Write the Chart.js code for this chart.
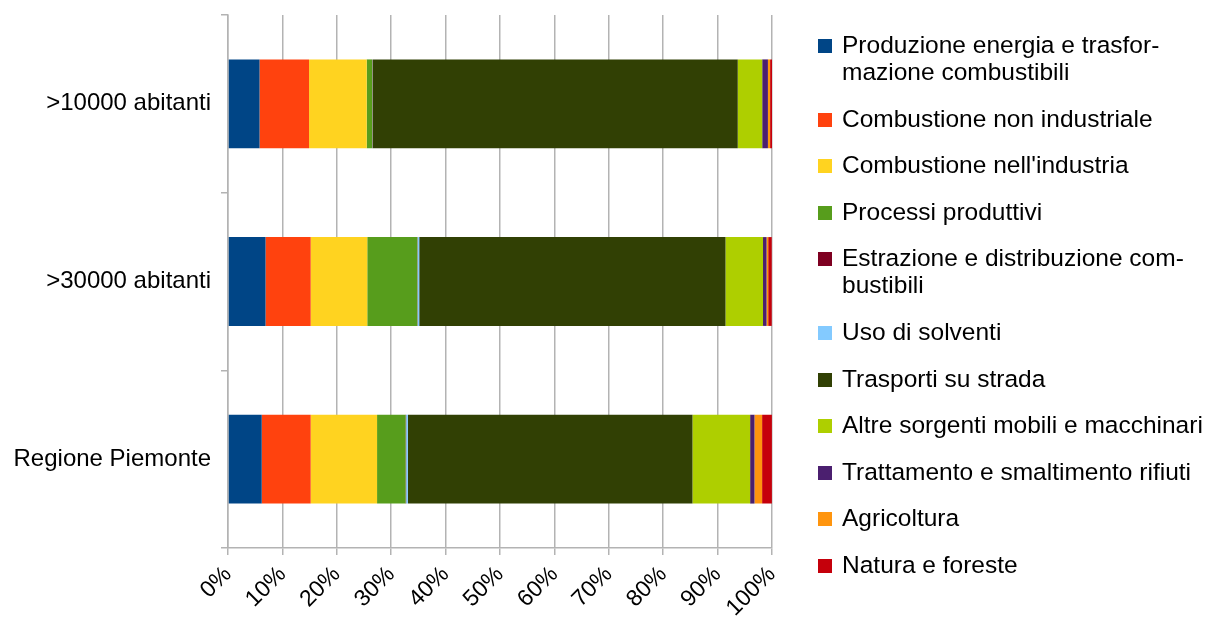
<!DOCTYPE html>
<html>
<head>
<meta charset="utf-8">
<script src="https://cdn.jsdelivr.net/npm/chart.js@4.4.0/dist/chart.umd.min.js"></script>
<style>
  html, body { margin: 0; padding: 0; background: #fff; }
  #wrap { position: relative; width: 1206px; height: 623px; }
  #legenda { position: absolute; left: 818px; top: 31px; font-family: "Liberation Sans", Arial, sans-serif; font-size: 24.5px; color: #000; }
  .voce { position: relative; padding-left: 24px; line-height: 27px; margin-bottom: 19.6px; white-space: nowrap; }
  .voce span.q { position: absolute; left: 0; top: 8px; width: 14px; height: 14px; }
</style>
</head>
<body>
<div id="wrap">
  <canvas id="grafico" width="1206" height="623"></canvas>
  <div id="legenda"></div>
</div>
<script>
// categorie (asse y)
const categorie = ['>10000 abitanti', '>30000 abitanti', 'Regione Piemonte'];

// nomi dei settori (righe della legenda)
const settori = [
  ['Produzione energia e trasfor-', 'mazione combustibili'],
  ['Combustione non industriale'],
  ["Combustione nell'industria"],
  ['Processi produttivi'],
  ['Estrazione e distribuzione com-', 'bustibili'],
  ['Uso di solventi'],
  ['Trasporti su strada'],
  ['Altre sorgenti mobili e macchinari'],
  ['Trattamento e smaltimento rifiuti'],
  ['Agricoltura'],
  ['Natura e foreste']
];

const colori = ['#004586', '#ff420e', '#ffd320', '#579d1c', '#7e0021', '#83caff',
                '#314004', '#aecf00', '#4b1f6f', '#ff950e', '#c5000b'];

// percentuali per settore: [>10000, >30000, Regione]
const produzioneEnergia = [5.8, 6.9, 6.2];
const combNonIndustriale = [9.1, 8.3, 9.0];
const combIndustria = [10.6, 10.4, 12.2];
const processiProduttivi = [1.0, 9.2, 5.25];
const estrazione = [0.05, 0.05, 0.1];
const solventi = [0.05, 0.3, 0.33];
const trasporti = [67.1, 56.3, 52.3];
const altreSorgenti = [4.5, 6.9, 10.6];
const rifiuti = [1.05, 0.65, 0.8];
const agricoltura = [0.4, 0.3, 1.4];
const natura = [0.45, 0.65, 1.8];

const serie = [produzioneEnergia, combNonIndustriale, combIndustria, processiProduttivi,
  estrazione, solventi, trasporti, altreSorgenti, rifiuti, agricoltura, natura];

const tickX = ['0%', '10%', '20%', '30%', '40%', '50%', '60%', '70%', '80%', '90%', '100%'];

const grigio = '#b3b3b3';
const famiglia = '"Liberation Sans", Arial, sans-serif';

const datasets = serie.map((valori, i) => ({
  label: settori[i].join(' '),
  data: valori,
  backgroundColor: colori[i],
  borderWidth: 0,
  categoryPercentage: 1,
  barPercentage: 0.5
}));

new Chart(document.getElementById('grafico'), {
  type: 'bar',
  data: { labels: categorie, datasets: datasets },
  options: {
    indexAxis: 'y',
    responsive: false,
    animation: false,
    layout: { padding: { top: 15, right: 434, left: 0, bottom: 0 } },
    plugins: { legend: { display: false }, tooltip: { enabled: false } },
    scales: {
      x: {
        stacked: true,
        min: 0,
        max: 100,
        afterFit: (s) => { s.height = 75; s.paddingTop = 0; },
        grid: { color: grigio, lineWidth: 1.5, tickLength: 7 },
        border: { color: grigio, width: 1.5 },
        ticks: {
          stepSize: 10,
          maxRotation: 45,
          minRotation: 45,
          color: '#000',
          font: { family: famiglia, size: 23 },
          padding: 6,
          callback: (v) => tickX[v / 10]
        }
      },
      y: {
        stacked: true,
        afterFit: (s) => { s.width = 228; s.paddingTop = 0; s.paddingBottom = 0; },
        grid: { drawOnChartArea: false, color: grigio, lineWidth: 1.5, tickLength: 7 },
        border: { color: grigio, width: 1.5 },
        ticks: { color: '#000', font: { family: famiglia, size: 24 }, padding: 10 }
      }
    }
  }
});

// legenda html
const legenda = document.getElementById('legenda');
settori.forEach((righe, i) => {
  const d = document.createElement('div');
  d.className = 'voce';
  d.innerHTML = '<span class="q" style="background:' + colori[i] + '"></span>' + righe.join('<br>');
  legenda.appendChild(d);
});
</script>
</body>
</html>
